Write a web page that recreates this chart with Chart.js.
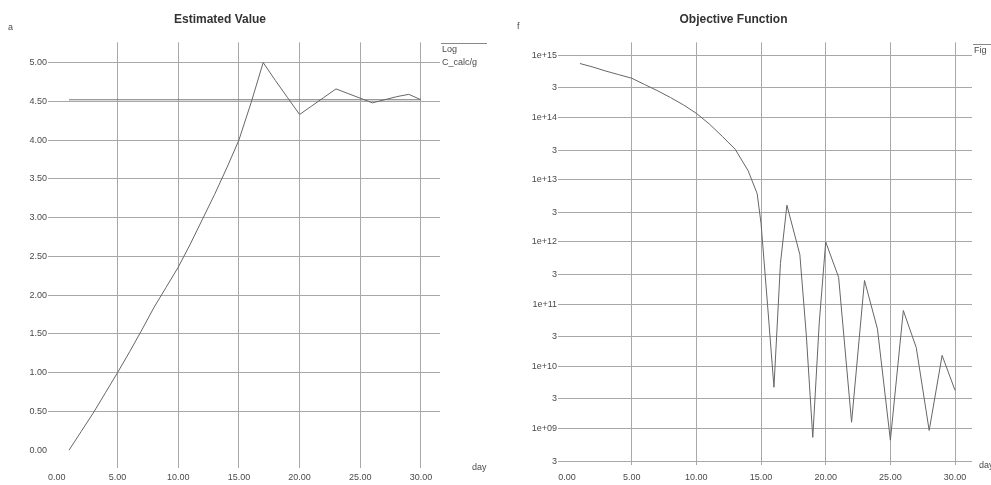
<!DOCTYPE html>
<html>
<head>
<meta charset="utf-8">
<script src="https://cdn.jsdelivr.net/npm/chart.js@4"></script>
<style>
html, body { margin: 0; padding: 0; background: #fff; }
#wrap { position: relative; width: 991px; height: 485px; }
.box { position: absolute; top: 0; height: 485px; }
</style>
</head>
<body>
<div id="wrap">
  <div class="box" style="left:0;width:495px"><canvas id="est"></canvas></div>
  <div class="box" style="left:495px;width:496px"><canvas id="obj"></canvas></div>
</div>
<script>
// left chart: estimated value
const estDays = [1,2,3,4,5,6,7,8,9,10,11,12,13,14,15,16,17,18,19,20,21,22,23,24,25,26,27,28,29,30];
const estValues = [0.00,0.24,0.48,0.74,1.00,1.27,1.55,1.84,2.10,2.36,2.66,2.98,3.30,3.64,4.00,4.48,5.00,4.77,4.55,4.33,4.44,4.55,4.66,4.60,4.54,4.48,4.52,4.56,4.59,4.52];
const calcDays = [1, 30];
const calcValues = [4.52, 4.52];
const estTicks = [0,0.5,1,1.5,2,2.5,3,3.5,4,4.5,5];
const dayTicks = [0,5,10,15,20,25,30];

// right chart: objective function
const objDays = [1,2,3,4,5,6,7,8,9,10,11,12,13,14,14.7,15,15.5,16,16.5,17,18,18.5,19,19.5,20,21,22,23,24,25,26,27,28,29,30];
const objValues = [7.4e14,6.5e14,5.6e14,4.9e14,4.3e14,3.4e14,2.7e14,2.1e14,1.6e14,1.17e14,7.9e13,5.0e13,3.1e13,1.4e13,6.0e12,2.0e12,1.0e11,4.6e9,4.5e11,3.9e12,6.3e11,3.2e10,7.2e8,5.0e10,1.0e12,2.7e11,1.26e9,2.4e11,4.0e10,6.5e8,7.9e10,2.0e10,9.3e8,1.5e10,4.1e9];
const objTicks = [3e8,1e9,3e9,1e10,3e10,1e11,3e11,1e12,3e12,1e13,3e13,1e14,3e14,1e15];

const gridCol = '#a8a8a8';
const lineCol = '#666';
const textCol = '#4a4a4a';
const fam = '"Liberation Sans", Arial, sans-serif';

function pts(xs, ys) {
  return xs.map((x, i) => ({x: x, y: ys[i]}));
}

function logLabel(v) {
  const e = Math.floor(Math.log10(v) + 1e-9);
  const m = v / Math.pow(10, e);
  if (Math.abs(m - 1) < 1e-6) return '1e+' + String(e).padStart(2, '0');
  return String(Math.round(m));
}

// axis units and the little legend boxes
const extras = {
  id: 'extras',
  afterDraw(chart, args, o) {
    const c = chart.ctx;
    c.save();
    c.fillStyle = textCol;
    c.strokeStyle = '#888';
    c.lineWidth = 1;
    c.font = '9px ' + fam;
    c.textBaseline = 'middle';
    c.textAlign = 'left';
    c.fillText(o.yUnit, o.yUnitAt[0], o.yUnitAt[1]);
    c.fillText(o.xUnit, o.xUnitAt[0], o.xUnitAt[1]);
    c.beginPath();
    c.moveTo(o.legendAt[0], o.legendAt[1] + 0.5);
    c.lineTo(o.legendAt[0] + o.legendW, o.legendAt[1] + 0.5);
    c.stroke();
    o.legend.forEach((t, i) => c.fillText(t, o.legendAt[0] + 1, o.legendAt[1] + 7 + i * 13));
    c.restore();
  }
};

function fixTicks(list) {
  return scale => { scale.ticks = list.map(v => ({value: v})); };
}

const common = {
  responsive: true,
  maintainAspectRatio: false,
  animation: false,
  elements: { point: { radius: 0 }, line: { borderWidth: 1, tension: 0 } },
};

new Chart(document.getElementById('est'), {
  type: 'line',
  data: {
    datasets: [
      { label: 'Log', data: pts(estDays, estValues), borderColor: lineCol },
      { label: 'C_calc/g', data: pts(calcDays, calcValues), borderColor: '#777' }
    ]
  },
  plugins: [extras],
  options: {
    ...common,
    layout: { padding: { left: 0, right: 55, top: 0, bottom: 0 } },
    plugins: {
      legend: { display: false },
      tooltip: { enabled: false },
      title: {
        display: true, text: 'Estimated Value', color: '#333',
        font: { family: fam, size: 12, weight: 'bold' },
        padding: { top: 12, bottom: 16 }
      },
      extras: {
        yUnit: 'a', yUnitAt: [8, 28], xUnit: 'day', xUnitAt: [472, 468],
        legend: ['Log', 'C_calc/g'], legendAt: [441, 43], legendW: 46
      }
    },
    scales: {
      x: {
        type: 'linear', min: -0.4, max: 31.57,
        afterBuildTicks: fixTicks(dayTicks),
        afterFit: s => { s.height = 17; },
        border: { display: false },
        grid: { color: ctx => ctx.tick && ctx.tick.value === 0 ? 'rgba(0,0,0,0)' : gridCol, drawTicks: false },
        ticks: { color: textCol, font: { family: fam, size: 9 }, padding: 4, maxRotation: 0,
                 callback: v => v.toFixed(2) }
      },
      y: {
        type: 'linear', min: -0.23, max: 5.26,
        afterBuildTicks: fixTicks(estTicks),
        afterFit: s => { s.width = 52; },
        border: { display: false },
        grid: { color: ctx => ctx.tick && ctx.tick.value === 0 ? 'rgba(0,0,0,0)' : gridCol, tickLength: 4 },
        ticks: { color: textCol, font: { family: fam, size: 9 }, padding: 1,
                 callback: v => v.toFixed(2) }
      }
    }
  }
});

new Chart(document.getElementById('obj'), {
  type: 'line',
  data: {
    datasets: [
      { label: 'Fig', data: pts(objDays, objValues), borderColor: lineCol }
    ]
  },
  plugins: [extras],
  options: {
    ...common,
    layout: { padding: { left: 0, right: 19, top: 0, bottom: 0 } },
    plugins: {
      legend: { display: false },
      tooltip: { enabled: false },
      title: {
        display: true, text: 'Objective Function', color: '#333',
        font: { family: fam, size: 12, weight: 'bold' },
        padding: { top: 12, bottom: 16 }
      },
      extras: {
        yUnit: 'f', yUnitAt: [22, 27], xUnit: 'day', xUnitAt: [484, 466],
        legend: ['Fig'], legendAt: [478, 44], legendW: 18
      }
    },
    scales: {
      x: {
        type: 'linear', min: -0.387, max: 31.31,
        afterBuildTicks: fixTicks(dayTicks),
        afterFit: s => { s.height = 20; },
        border: { display: false },
        grid: { color: ctx => ctx.tick && ctx.tick.value === 0 ? 'rgba(0,0,0,0)' : gridCol, drawTicks: false },
        ticks: { color: textCol, font: { family: fam, size: 9 }, padding: 7, maxRotation: 0,
                 callback: v => v.toFixed(2) }
      },
      y: {
        type: 'logarithmic', min: 2.59e8, max: 1.618e15,
        afterBuildTicks: fixTicks(objTicks),
        afterFit: s => { s.width = 67; },
        border: { display: false },
        grid: { color: gridCol, tickLength: 4 },
        ticks: { color: textCol, font: { family: fam, size: 9 }, padding: 1, autoSkip: false,
                 callback: v => logLabel(v) }
      }
    }
  }
});
</script>
</body>
</html>
